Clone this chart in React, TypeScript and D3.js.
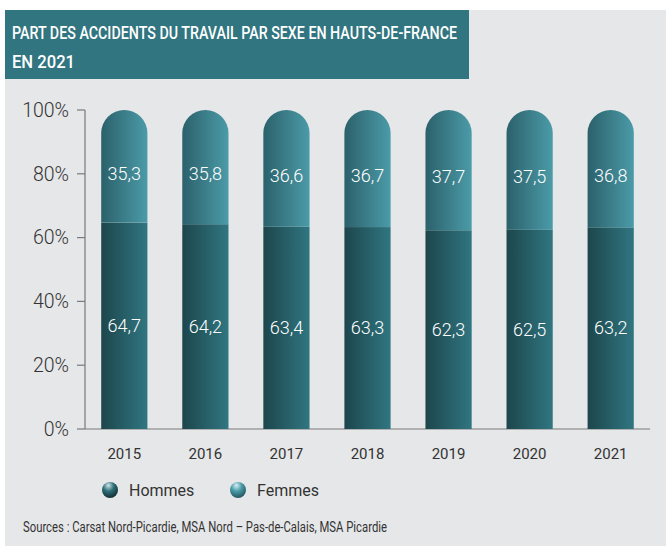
import React from "react";
import * as d3 from "d3";

const years = ["2015", "2016", "2017", "2018", "2019", "2020", "2021"];
const hommes = [64.7, 64.2, 63.4, 63.3, 62.3, 62.5, 63.2];
const femmes = [35.3, 35.8, 36.6, 36.7, 37.7, 37.5, 36.8];
const yTicks = [0, 20, 40, 60, 80, 100];
const seriesNames = ["Hommes", "Femmes"];
const title1 = "PART DES ACCIDENTS DU TRAVAIL PAR SEXE EN HAUTS-DE-FRANCE";
const title2 = "EN 2021";
const source = "Sources : Carsat Nord-Picardie, MSA Nord – Pas-de-Calais, MSA Picardie";

const W = 666, H = 546;
const fmt = (v: number) => v.toFixed(1).replace(".", ",");

export default function App() {
  const x = d3.scaleBand<string>().domain(years).range([85, 650]).paddingInner(0.43).paddingOuter(0.2);
  const y = d3.scaleLinear().domain([0, 100]).range([429, 110]);
  const bw = x.bandwidth();
  const r = bw / 2;
  const font = "Roboto, 'Noto Sans', sans-serif";

  const femPath = (xi: number, top: number, bottom: number) => {
    const p = d3.path();
    p.moveTo(xi, bottom);
    p.lineTo(xi, top + r);
    p.arc(xi + r, top + r, r, Math.PI, 0);
    p.lineTo(xi + bw, bottom);
    p.closePath();
    return p.toString();
  };

  return (
    <svg width={W} height={H} style={{ position: "absolute", left: 0, top: 0 }}>
      <defs>
        <linearGradient id="gH" x1="0" x2="1" y1="0" y2="0">
          <stop offset="0" stopColor="#1d464c" />
          <stop offset="1" stopColor="#307681" />
        </linearGradient>
        <linearGradient id="gF" x1="0" x2="1" y1="0" y2="0">
          <stop offset="0" stopColor="#2b616b" />
          <stop offset="1" stopColor="#4b9ba8" />
        </linearGradient>
        <radialGradient id="sH" cx="0.4" cy="0.3" r="0.75" fx="0.4" fy="0.2">
          <stop offset="0" stopColor="#cfe6ea" />
          <stop offset="0.45" stopColor="#2f6f78" />
          <stop offset="1" stopColor="#0f2a2e" />
        </radialGradient>
        <radialGradient id="sF" cx="0.4" cy="0.3" r="0.75" fx="0.4" fy="0.2">
          <stop offset="0" stopColor="#d8eff3" />
          <stop offset="0.45" stopColor="#4b9ba8" />
          <stop offset="1" stopColor="#1f5058" />
        </radialGradient>
      </defs>
      <rect x={0} y={0} width={W} height={H} fill="#ffffff" />
      <rect x={5} y={10} width={W - 5} height={H - 10} fill="#e6e7e9" />
      <rect x={5} y={10} width={464} height={69} fill="#317580" />
      <text x={12} y={39} fill="#ffffff" fontFamily={font} fontWeight={500} fontSize={18.5}
        textLength={445} lengthAdjust="spacingAndGlyphs">{title1}</text>
      <text x={12} y={68} fill="#ffffff" fontFamily={font} fontWeight={500} fontSize={18.5}
        textLength={63} lengthAdjust="spacingAndGlyphs">{title2}</text>

      {/* axes */}
      <line x1={85} x2={85} y1={y(100)} y2={y(0)} stroke="#7a7a7a" strokeWidth={1.2} />
      <line x1={85} x2={650} y1={y(0)} y2={y(0)} stroke="#7a7a7a" strokeWidth={1.2} />
      {yTicks.map((t) => (
        <g key={t}>
          <line x1={77} x2={85} y1={y(t)} y2={y(t)} stroke="#7a7a7a" strokeWidth={1.2} />
          <text x={69} y={y(t)} dy="0.35em" textAnchor="end" fontFamily={font} fontWeight={300}
            fontSize={19.5} fill="#333">{t}%</text>
        </g>
      ))}

      {years.map((yr, i) => {
        const xi = x(yr)!;
        const hTop = y(hommes[i]);
        return (
          <g key={yr}>
            <rect x={xi} y={hTop} width={bw} height={y(0) - hTop} fill="url(#gH)" />
            <path d={femPath(xi, y(100), hTop)} fill="url(#gF)" />
            <text x={xi + r} y={(y(100) + hTop) / 2 + 7} dy="0.35em" textAnchor="middle" fill="#fff"
              fontFamily={font} fontWeight={300} fontSize={18}>{fmt(femmes[i])}</text>
            <text x={xi + r} y={(hTop + y(0)) / 2} dy="0.35em" textAnchor="middle" fill="#fff"
              fontFamily={font} fontWeight={300} fontSize={18}>{fmt(hommes[i])}</text>
            <text x={xi + r} y={454} dy="0.35em" textAnchor="middle" fill="#333"
              fontFamily={font} fontSize={15}>{yr}</text>
          </g>
        );
      })}

      {/* legend */}
      {seriesNames.map((s, i) => (
        <g key={s} transform={`translate(${110 + i * 128},490)`}>
          <circle r={8} fill={i === 0 ? "url(#sH)" : "url(#sF)"} />
          <text x={19} dy="0.35em" fontFamily={font} fontSize={16} fill="#333">{s}</text>
        </g>
      ))}

      <text x={23} y={527} dy="0.35em" fontFamily={font} fontSize={14} fill="#333"
        textLength={364} lengthAdjust="spacingAndGlyphs">{source}</text>
    </svg>
  );
}
